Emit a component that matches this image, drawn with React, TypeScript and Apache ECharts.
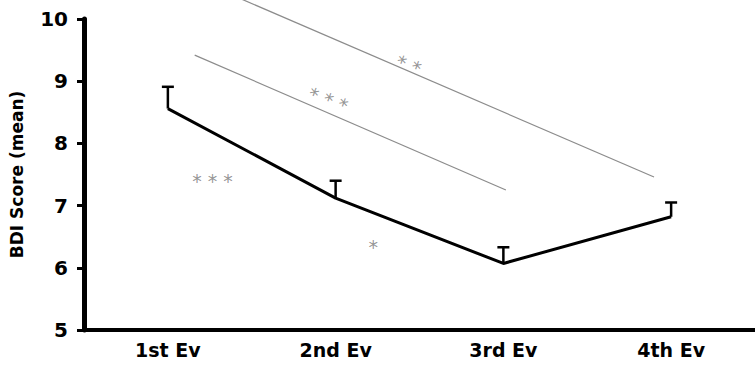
import React, { useEffect, useRef } from "react";
import * as echarts from "echarts";

const categories = ["1st Ev", "2nd Ev", "3rd Ev", "4th Ev"];
const meanValues = [8.56, 7.12, 6.07, 6.82];
const upperValues = [8.91, 7.4, 6.33, 7.05];
const yTicks = [5, 6, 7, 8, 9, 10];

// significance lines: [xIndexPosition, value]
const sigLineA = [[0.16, 9.42], [2.015, 7.25]];
const sigLineB = [[0.43, 10.33], [2.898, 7.46]];
// asterisk labels: [xIndexPosition, value, text, rotation]
const starLabels: [number, number, string, number][] = [
  [0.956, 8.7, "* * *", -20],
  [1.436, 9.26, "* *", -20],
  [0.266, 7.4, "* * *", 0],
  [1.225, 6.34, "*", 0],
];

const FONT = "DejaVu Sans";

export default function App() {
  const ref = useRef<HTMLDivElement>(null);
  useEffect(() => {
    if (!ref.current) return;
    const chart = echarts.init(ref.current, undefined, { renderer: "svg" });
    const option: any = {
      animation: false,
      backgroundColor: "#ffffff",
      grid: { left: 81, top: 19, width: 684, height: 311 },
      xAxis: [
        {
          type: "category",
          data: categories,
          boundaryGap: true,
          axisLine: { onZero: false, lineStyle: { color: "#000", width: 4 } },
          axisTick: { alignWithLabel: true, length: 7, lineStyle: { color: "#000", width: 3 } },
          axisLabel: {
            color: "#000",
            fontFamily: FONT,
            fontWeight: "bold",
            fontSize: 19,
            margin: 10,
          },
          splitLine: { show: false },
        },
        {
          type: "value",
          min: -0.5,
          max: 3.5,
          show: false,
        },
      ],
      yAxis: {
        type: "value",
        min: yTicks[0],
        max: yTicks[yTicks.length - 1],
        interval: 1,
        name: "BDI Score (mean)",
        nameLocation: "middle",
        nameGap: 59,
        nameTextStyle: {
          color: "#000",
          fontFamily: FONT,
          fontWeight: "bold",
          fontSize: 17,
        },
        axisLine: { show: true, onZero: false, lineStyle: { color: "#000", width: 5 } },
        axisTick: { show: true, length: 7, lineStyle: { color: "#000", width: 3 } },
        axisLabel: {
          color: "#000",
          fontFamily: FONT,
          fontWeight: "bold",
          fontSize: 20,
          margin: 16,
        },
        splitLine: { show: false },
      },
      series: [
        {
          type: "line",
          data: meanValues,
          symbol: "none",
          lineStyle: { color: "#000", width: 3 },
          z: 5,
        },
        {
          type: "custom",
          data: categories.map((_, i) => [i, meanValues[i], upperValues[i]]),
          renderItem: (params: any, api: any) => {
            const base = api.coord([api.value(0), api.value(1)]);
            const top = api.coord([api.value(0), api.value(2)]);
            const style = { stroke: "#000", lineWidth: 2.5 };
            return {
              type: "group",
              children: [
                { type: "line", shape: { x1: base[0], y1: base[1], x2: top[0], y2: top[1] }, style },
                { type: "line", shape: { x1: top[0] - 6, y1: top[1], x2: top[0] + 6, y2: top[1] }, style },
              ],
            };
          },
          z: 6,
        },
        {
          type: "line",
          xAxisIndex: 1,
          data: sigLineA,
          symbol: "none",
          clip: false,
          lineStyle: { color: "#8c8c8c", width: 1.2 },
        },
        {
          type: "line",
          xAxisIndex: 1,
          data: sigLineB,
          symbol: "none",
          clip: false,
          lineStyle: { color: "#8c8c8c", width: 1.2 },
        },
        {
          type: "scatter",
          xAxisIndex: 1,
          symbolSize: 0,
          data: starLabels.map((s) => ({
            value: [s[0], s[1]],
            label: {
              show: true,
              position: "inside",
              formatter: s[2],
              rotate: s[3],
              color: "#7a7a7a",
              fontFamily: FONT,
              fontSize: 19,
            },
          })),
        },
      ],
    };
    chart.setOption(option);
    return () => chart.dispose();
  }, []);
  return (
    <div
      ref={ref}
      style={{ position: "absolute", left: 0, top: 0, width: 755, height: 365 }}
    />
  );
}
